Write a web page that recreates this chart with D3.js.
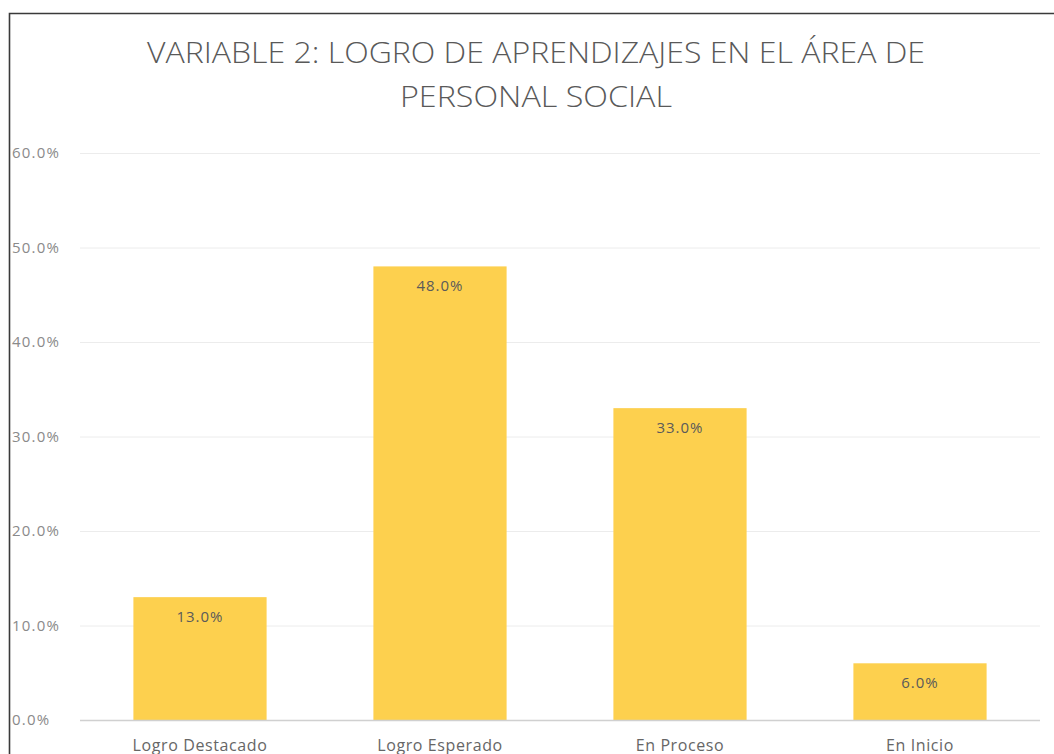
<!DOCTYPE html>
<html>
<head>
<meta charset="utf-8">
<script src="https://cdn.jsdelivr.net/npm/d3@7"></script>
<style>
  body { margin: 0; background: #fff; }
  svg { display: block; font-family: "Open Sans", sans-serif; }
</style>
</head>
<body>
<script>
var categories = ["Logro Destacado", "Logro Esperado", "En Proceso", "En Inicio"];
var values = [0.13, 0.48, 0.33, 0.06];
var yTicks = [0, 0.1, 0.2, 0.3, 0.4, 0.5, 0.6];
var titleLines = ["VARIABLE 2: LOGRO DE APRENDIZAJES EN EL ÁREA DE", "PERSONAL SOCIAL"];

var width = 1054, height = 754;
var margin = {top: 153, right: 14, bottom: 34, left: 80};

var svg = d3.select("body").append("svg")
    .attr("width", width)
    .attr("height", height);

svg.append("rect")
    .attr("width", width).attr("height", height)
    .attr("fill", "#fff");

// chart frame (only left and top edges fall inside the picture)
svg.append("path")
    .attr("d", "M9.5," + height + "V13.5H" + width)
    .attr("fill", "none")
    .attr("stroke", "#3a3a3a")
    .attr("stroke-width", 1.6);

var x = d3.scaleBand()
    .domain(categories)
    .range([margin.left, width - margin.right])
    .paddingInner(0.445)
    .paddingOuter(0.2225);

var y = d3.scaleLinear()
    .domain([0, 0.6])
    .range([height - margin.bottom, margin.top]);

var fmt = d3.format(".1%");

// gridlines
svg.append("g")
    .selectAll("line")
    .data(yTicks.slice(1))
    .join("line")
    .attr("x1", margin.left)
    .attr("x2", width - margin.right)
    .attr("y1", d => y(d) + 0.5)
    .attr("y2", d => y(d) + 0.5)
    .attr("stroke", "#ececec")
    .attr("stroke-width", 1);

// y tick labels
svg.append("g")
    .selectAll("text")
    .data(yTicks)
    .join("text")
    .attr("x", 12)
    .attr("y", d => y(d))
    .attr("dy", "0.35em")
    .attr("fill", "#8a8a8a")
    .attr("font-size", 15)
    .attr("letter-spacing", 1.2)
    .text(d => fmt(d));

// bars
svg.append("g")
    .selectAll("rect")
    .data(values)
    .join("rect")
    .attr("x", (d, i) => x(categories[i]))
    .attr("width", x.bandwidth())
    .attr("y", d => y(d))
    .attr("height", d => y(0) - y(d))
    .attr("fill", "#fdd04e");

// data labels
svg.append("g")
    .selectAll("text")
    .data(values)
    .join("text")
    .attr("x", (d, i) => x(categories[i]) + x.bandwidth() / 2)
    .attr("y", d => y(d) + 25)
    .attr("text-anchor", "middle")
    .attr("fill", "#5a5a5a")
    .attr("font-size", 15)
    .attr("letter-spacing", 1)
    .text(d => fmt(d));

// x axis line
svg.append("line")
    .attr("x1", margin.left)
    .attr("x2", width - margin.right)
    .attr("y1", y(0) + 0.5)
    .attr("y2", y(0) + 0.5)
    .attr("stroke", "#d0d0d0")
    .attr("stroke-width", 1.6);

// category labels
svg.append("g")
    .selectAll("text")
    .data(categories)
    .join("text")
    .attr("x", d => x(d) + x.bandwidth() / 2)
    .attr("y", y(0) + 31)
    .attr("text-anchor", "middle")
    .attr("fill", "#666")
    .attr("font-size", 16)
    .attr("letter-spacing", 0.6)
    .text(d => d);

// title
svg.append("g")
    .selectAll("text")
    .data(titleLines)
    .join("text")
    .attr("x", 536)
    .attr("y", (d, i) => 63 + i * 44)
    .attr("text-anchor", "middle")
    .attr("fill", "#595959")
    .attr("font-size", 29)
    .attr("font-weight", 300)
    .attr("textLength", (d, i) => i === 0 ? 778 : 272)
    .attr("lengthAdjust", "spacingAndGlyphs")
    .text(d => d);
</script>
</body>
</html>
